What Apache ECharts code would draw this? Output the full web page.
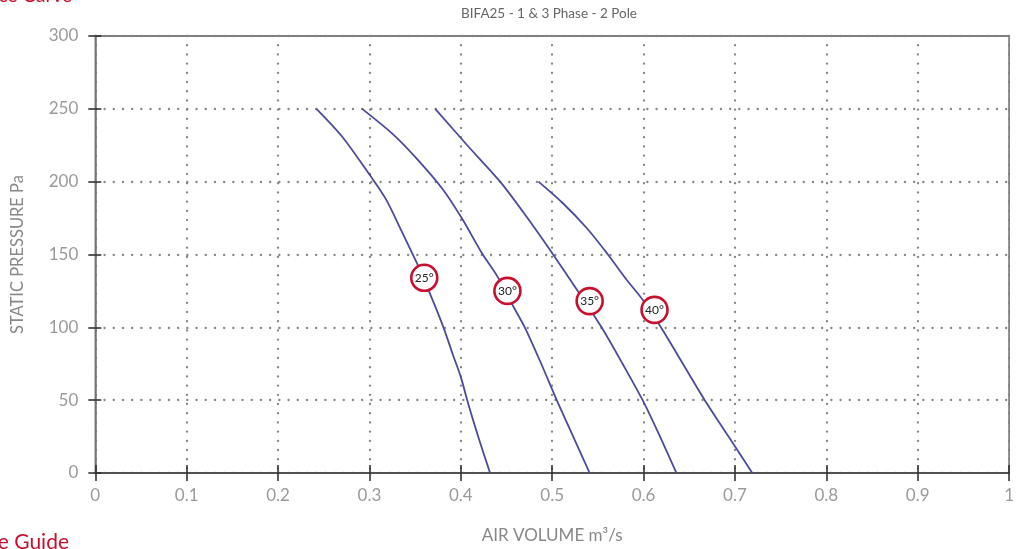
<!DOCTYPE html>
<html>
<head>
<meta charset="utf-8">
<script src="https://cdn.jsdelivr.net/npm/echarts@6/dist/echarts.min.js"></script>
<style>
html,body{margin:0;padding:0;background:#fff;}
#chart{width:1017px;height:549px;}
</style>
</head>
<body>
<div id="chart"></div>
<script>
// Data (air volume m3/s, static pressure Pa)
var curve25 = [[0.242,250],[0.270,231],[0.301,204],[0.318,188],[0.336,165],[0.352,144],[0.365,125],[0.381,100],[0.392,80],[0.400,66],[0.407,50],[0.419,25],[0.432,0]];
var curve30 = [[0.292,250],[0.325,233],[0.350,217],[0.380,195],[0.401,175],[0.423,151],[0.440,135],[0.456,116],[0.470,100],[0.488,75],[0.505,50],[0.523,25],[0.541,0]];
var curve35 = [[0.372,250],[0.407,225],[0.443,200],[0.473,175],[0.501,150],[0.528,125],[0.554,100],[0.577,75],[0.599,50],[0.618,25],[0.636,0]];
var curve40 = [[0.485,200],[0.512,185],[0.538,168],[0.561,150],[0.581,133],[0.599,119],[0.619,100],[0.643,75],[0.667,50],[0.693,25],[0.719,0]];
var labelText = ['25°','30°','35°','40°'];
var labelX = [0.360,0.451,0.541,0.612];
var labelY = [134,125,118,112];

var FONT = 'Lato, "Open Sans", sans-serif';
var lineColor = '#4c4b9b';
var chart = echarts.init(document.getElementById('chart'));

function curveSeries(d){
  return {type:'line', data:d, showSymbol:false, smooth:0.3, xAxisIndex:0, yAxisIndex:0,
    lineStyle:{color:lineColor, width:1.8}, z:3, silent:true};
}
var labelData = labelX.map(function(x,i){return {value:[x,labelY[i]], name:labelText[i]};});

var gridLineStyle = {color:'#858585', width:2.3, type:[0.1,9.1], cap:'round'};

chart.setOption({
  animation:false,
  backgroundColor:'#fff',
  grid:{left:95.3, right:4.7, top:36, bottom:75, show:true, borderColor:'#555', borderWidth:1.3, backgroundColor:'transparent'},
  graphic:[
    {type:'text', style:{text:'BIFA25 - 1 & 3 Phase - 2 Pole', x:549, y:14, fill:'#666', font:'13.5px '+FONT, textAlign:'center', textVerticalAlign:'middle'}},
    {type:'text', style:{text:'Performance Curve', x:72, y:-14, fill:'#c8102e', font:'19px '+FONT, textAlign:'right', textVerticalAlign:'top'}},
    {type:'text', style:{text:'Reference Guide', x:69, y:532, fill:'#c8102e', font:'21px '+FONT, textAlign:'right', textVerticalAlign:'top'}}
  ],
  xAxis:[{
    type:'value', min:0, max:1, interval:0.1, position:'bottom',
    name:'AIR VOLUME m³/s', nameLocation:'middle', nameGap:54,
    nameTextStyle:{color:'#888', fontSize:17, fontFamily:FONT},
    axisLine:{show:true, lineStyle:{color:'#444', width:1.6}},
    axisTick:{show:true, length:8, lineStyle:{color:'#333', width:1.6}},
    axisLabel:{color:'#9a9a9a', fontSize:17, fontFamily:FONT, margin:14, formatter:function(v){return String(+v.toFixed(1));}},
    splitLine:{show:true, lineStyle:gridLineStyle}
  },{
    type:'value', min:0, max:1, interval:0.1, position:'bottom', gridIndex:0,
    axisLine:{show:false}, axisLabel:{show:false}, splitLine:{show:false},
    axisTick:{show:true, inside:true, length:8, lineStyle:{color:'#333', width:1.6}}
  }],
  yAxis:[{
    type:'value', min:0, max:300, interval:50,
    name:'STATIC PRESSURE Pa', nameLocation:'middle', nameGap:69, nameRotate:90,
    nameTextStyle:{color:'#888', fontSize:16.5, fontFamily:FONT},
    axisLine:{show:true, lineStyle:{color:'#777', width:1.6}},
    axisTick:{show:true, length:7, lineStyle:{color:'#333', width:1.6}},
    axisLabel:{color:'#9a9a9a', fontSize:17, fontFamily:FONT, margin:17},
    splitLine:{show:true, lineStyle:gridLineStyle}
  },{
    type:'value', min:0, max:300, interval:50, position:'left',
    axisLine:{show:false}, axisLabel:{show:false}, splitLine:{show:false},
    axisTick:{show:true, inside:true, length:6, lineStyle:{color:'#333', width:1.6}}
  }],
  series:[
    curveSeries(curve25), curveSeries(curve30), curveSeries(curve35), curveSeries(curve40),
    {type:'scatter', data:labelData, symbol:'circle', symbolSize:26, z:5,
     itemStyle:{color:'#fff', borderColor:'#c8102e', borderWidth:2.6, opacity:1},
     label:{show:true, position:'inside', formatter:function(p){return p.name;}, color:'#222', fontSize:12, fontFamily:FONT}}
  ]
});
</script>
</body>
</html>
